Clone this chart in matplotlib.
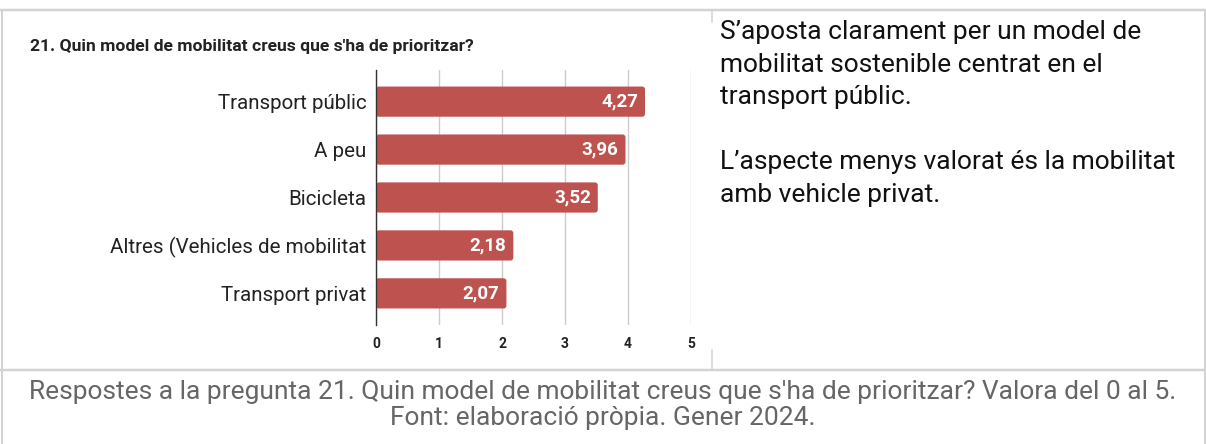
import matplotlib
matplotlib.use("Agg")
import matplotlib.pyplot as plt
from matplotlib.lines import Line2D
from matplotlib.patches import FancyBboxPatch

plt.rcParams['font.family'] = ['Roboto', 'DejaVu Sans']

categories = ["Transport públic", "A peu", "Bicicleta",
              "Altres (Vehicles de mobilitat", "Transport privat"]
values = [4.27, 3.96, 3.52, 2.18, 2.07]
value_labels = ["4,27", "3,96", "3,52", "2,18", "2,07"]
xticks = [0, 1, 2, 3, 4, 5]
chart_title = "21. Quin model de mobilitat creus que s'ha de prioritzar?"
side_text = ("S’aposta clarament per un model de\n"
             "mobilitat sostenible centrat en el\n"
             "transport públic.\n"
             "\n"
             "L’aspecte menys valorat és la mobilitat\n"
             "amb vehicle privat.")
caption_lines = ["Respostes a la pregunta 21. Quin model de mobilitat creus que s'ha de prioritzar? Valora del 0 al 5.",
                 "Font: elaboració pròpia. Gener 2024."]

W, H = 1206, 444
fig = plt.figure(figsize=(W / 100, H / 100), dpi=100)
fig.patch.set_facecolor("white")

def fx(px):
    return px / W

def fy(py):
    return 1 - py / H

# table borders
border = "#d3d3d3"
for (x0, y0, x1, y1, lw) in [
    (0, 10, W, 10, 2.5),
    (0, 370, W, 370, 2.5),
    (1.5, 10, 1.5, H, 2.0),
    (1204.5, 10, 1204.5, H, 2.0),
    (712.5, 10, 712.5, 22, 1.5),
    (712.5, 350, 712.5, 370, 1.5),
]:
    fig.add_artist(Line2D([fx(x0), fx(x1)], [fy(y0), fy(y1)], color=border,
                          lw=lw * 0.72, transform=fig.transFigure))

# chart axes
ax = fig.add_axes([fx(376), fy(325), fx(691) - fx(376), fy(70) - fy(325)])
y = list(range(len(categories)))
bars = ax.barh(y, values, height=0.63, color="#be524e", zorder=3)
ax.set_ylim(len(categories) - 1 + 0.66, -0.66)
ax.set_xlim(0, 5)

# rounded corners: redraw each bar with its own geometry
for b in bars:
    b.set_visible(False)
    rp = FancyBboxPatch((b.get_x(), b.get_y()), b.get_width(), b.get_height(),
                        boxstyle="round,pad=0,rounding_size=0.045",
                        mutation_aspect=1.3, facecolor="#be524e",
                        edgecolor="none", zorder=3)
    ax.add_patch(rp)

ax.set_xticks(xticks)
ax.set_xticklabels([str(t) for t in xticks], fontweight="bold", fontsize=10, color="#222222")
ax.tick_params(axis="x", length=0, pad=9)
ax.set_yticks(y)
ax.set_yticklabels(categories, fontsize=14.8, color="#222222")
ax.tick_params(axis="y", length=0, pad=7)
for s in ["top", "right", "bottom"]:
    ax.spines[s].set_visible(False)
ax.spines["left"].set_color("#333333")
ax.spines["left"].set_linewidth(1.0)
ax.spines["left"].set_zorder(4)
ax.grid(axis="x", color="#cccccc", lw=1.0, zorder=0)
ax.set_axisbelow(True)
for yi, v, lab in zip(y, values, value_labels):
    ax.annotate(lab, (v, yi), xytext=(-5, 0), textcoords="offset points",
                ha="right", va="center", color="white", fontweight="bold",
                fontsize=13.5, zorder=5)

fig.text(fx(30), fy(47), chart_title, fontsize=12.6, fontweight="bold",
         color="#222222", ha="left", va="center")

fig.text(fx(720), fy(20), side_text, fontsize=19, color="#111111",
         ha="left", va="top", linespacing=1.45)

for line, ypx in zip(caption_lines, [392, 418]):
    fig.text(0.5, fy(ypx), line, fontsize=19, color="#666666",
             ha="center", va="center")

fig.savefig("out.png", dpi=100, facecolor="white")
